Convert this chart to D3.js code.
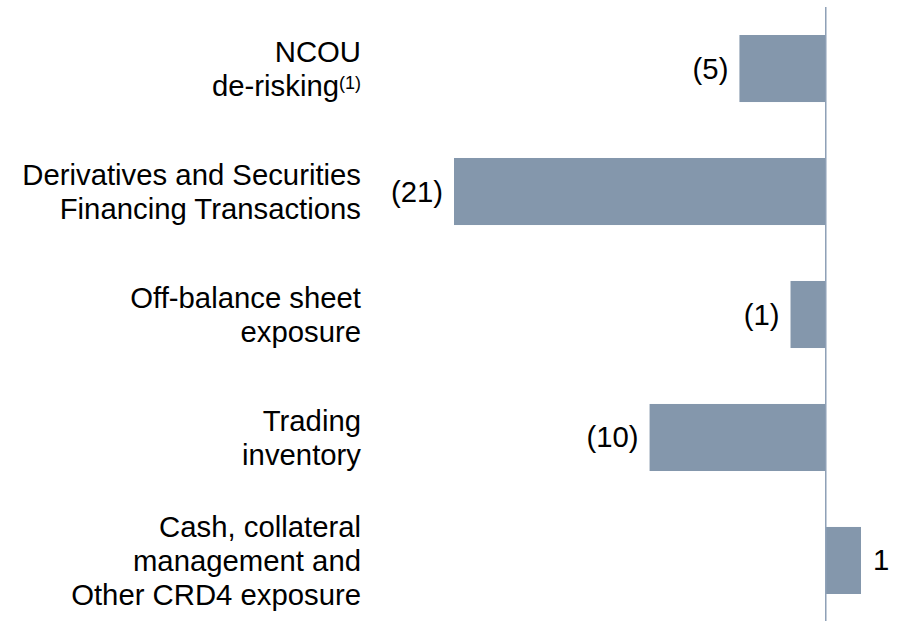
<!DOCTYPE html>
<html>
<head>
<meta charset="utf-8">
<script src="https://cdn.jsdelivr.net/npm/d3@7"></script>
<style>
  body { margin: 0; background: #fff; }
  text { font-family: "Liberation Sans", Arial, sans-serif; fill: #000; }
</style>
</head>
<body>
<div id="chart"></div>
<script>
    // Categories (label lines), bar lengths, printed labels
    const categories = ["ncou", "dsft", "obs", "trading", "cash"];
    const categoryLines = [
        ["NCOU", "de-risking"],
        ["Derivatives and Securities", "Financing Transactions"],
        ["Off-balance sheet", "exposure"],
        ["Trading", "inventory"],
        ["Cash, collateral", "management and", "Other CRD4 exposure"]
    ];
    const footnotes = ["(1)", "", "", "", ""];
    const values = [-4.9, -21.1, -2.0, -10.0, 2.0];
    const valueLabels = ["(5)", "(21)", "(1)", "(10)", "1"];

    const width = 899;
    const height = 621;
    const fontSize = 29.3;
    const lineHeight = 34;

    const svg = d3.select("#chart")
        .append("svg")
        .attr("width", width)
        .attr("height", height);

    const x = d3.scaleLinear()
        .domain([-21.1, 2])
        .range([454, 861]);

    const y = d3.scaleBand()
        .domain(categories)
        .range([35, 594])
        .paddingInner(0.455)
        .paddingOuter(0);

    const rows = categories.map((c, i) => ({
        key: c,
        lines: categoryLines[i],
        note: footnotes[i],
        value: values[i],
        label: valueLabels[i]
    }));

    // Bars
    svg.selectAll("rect.bar")
        .data(rows)
        .enter()
        .append("rect")
        .attr("class", "bar")
        .attr("x", d => x(Math.min(0, d.value)))
        .attr("y", d => y(d.key))
        .attr("width", d => Math.abs(x(d.value) - x(0)))
        .attr("height", y.bandwidth())
        .attr("fill", "#8497ac");

    // Zero line
    svg.append("line")
        .attr("x1", x(0))
        .attr("x2", x(0))
        .attr("y1", 7)
        .attr("y2", height)
        .attr("stroke", "#8ea0b7")
        .attr("stroke-width", 1.5);

    // Value labels
    svg.selectAll("text.value")
        .data(rows)
        .enter()
        .append("text")
        .attr("class", "value")
        .attr("x", d => d.value < 0 ? x(d.value) - 11 : x(d.value) + 12)
        .attr("y", d => y(d.key) + y.bandwidth() / 2 + 10)
        .attr("text-anchor", d => d.value < 0 ? "end" : "start")
        .style("font-size", fontSize + "px")
        .text(d => d.label);

    // Category labels, right aligned
    const cat = svg.selectAll("text.cat")
        .data(rows)
        .enter()
        .append("text")
        .attr("class", "cat")
        .attr("text-anchor", "end")
        .style("font-size", fontSize + "px")
        .attr("y", d => y(d.key) + y.bandwidth() / 2 - (d.lines.length - 1) * lineHeight / 2 + 10.5);

    cat.each(function(d) {
        const t = d3.select(this);
        d.lines.forEach((line, i) => {
            const last = i === d.lines.length - 1;
            const xEnd = last && d.note ? 361 - 22 : 361;
            t.append("tspan")
                .attr("x", xEnd)
                .attr("dy", i === 0 ? 0 : lineHeight)
                .text(line);
            if (last && d.note) {
                t.append("tspan")
                    .attr("x", 361)
                    .attr("dy", -7)
                    .style("font-size", "18px")
                    .text(d.note);
            }
        });
    });
</script>
</body>
</html>
